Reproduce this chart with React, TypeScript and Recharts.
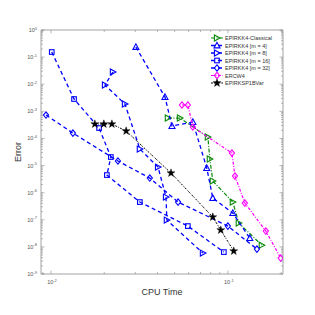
import React from 'react';
import { ScatterChart, Scatter, XAxis, YAxis, ReferenceArea, Legend } from 'recharts';

// values (CPU time in s, error)
const classicalCpu = [0.0458, 0.0536, 0.0771, 0.0791, 0.0822, 0.1067, 0.1153, 0.1556];
const classicalErr = [5.66e-4, 5.66e-4, 1.13e-4, 1.74e-5, 2.68e-6, 4.5e-7, 7.55e-8, 1.16e-8];

const m4Cpu = [0.0302, 0.0441, 0.0483, 0.0634, 0.076, 0.0822, 0.1067, 0.133];
const m4Err = [0.236, 3.37e-3, 2.87e-4, 4.03e-4, 8.09e-6, 6.32e-7, 1.77e-7, 2.11e-8];

const m8Cpu = [0.0224, 0.0202, 0.0262, 0.0318, 0.0403, 0.0447, 0.0452, 0.0723];
const m8Err = [0.0282, 9.34e-3, 1.86e-3, 4.06e-5, 8.8e-6, 6.88e-7, 9.75e-8, 5.9e-9];

const m16Cpu = [0.0101, 0.0135, 0.0187, 0.0218, 0.0207, 0.0318, 0.0594, 0.0949];
const m16Err = [0.154, 2.84e-3, 2.42e-4, 2.06e-5, 4.46e-6, 4.5e-7, 5.86e-8, 6.43e-9];

const m32Cpu = [0.00937, 0.0133, 0.0239, 0.0362, 0.0523, 0.1, 0.146];
const m32Err = [7.3e-4, 1.58e-4, 1.47e-5, 3.46e-6, 4.5e-7, 5.86e-8, 8.3e-9];

const ercwCpu = [0.055, 0.0594, 0.0634, 0.1054, 0.1097, 0.1248, 0.164, 0.199];
const ercwErr = [1.71e-3, 1.71e-3, 2.64e-4, 2.89e-5, 4.1e-6, 4.13e-7, 3.83e-8, 3.86e-9];

const spCpu = [0.0177, 0.0199, 0.0221, 0.0266, 0.0477, 0.0822, 0.0912, 0.108];
const spErr = [3.4e-4, 3.4e-4, 3.4e-4, 1.88e-4, 5.29e-6, 1.26e-7, 4.17e-8, 7e-9];

const X_DOMAIN = [0.00878, 0.205];
const Y_DOMAIN = [1e-9, 1];
const X_MAJOR = [0.01, 0.1];
const X_MINOR = [0.009, 0.02, 0.03, 0.04, 0.05, 0.06, 0.07, 0.08, 0.09, 0.2];
const Y_MAJOR = [1e-9, 1e-8, 1e-7, 1e-6, 1e-5, 1e-4, 1e-3, 1e-2, 1e-1, 1];
const MINOR_STEPS = [2, 3, 4, 5, 6, 7, 8, 9];

const yTicks = [...Y_MAJOR];
Y_MAJOR.slice(0, -1).forEach(d => MINOR_STEPS.forEach(m => yTicks.push(m * d)));
const xTicks = [...X_MAJOR, ...X_MINOR];

const W = 315;
const H = 315;
const PLOT = { left: 41, right: 283, top: 30, bottom: 274 };
const AXIS = '#8a8a8a';
const FONT = '"Liberation Sans", Arial, sans-serif';

const BLUE = '#0000ff';
const GREEN = '#0a8a0a';
const MAGENTA = '#ff00ff';

const pts = (cpu: number[], err: number[]) => cpu.map((c, i) => ({ cpu: c, err: err[i] }));

const isMajor = (v: number) => Math.abs(Math.log10(v) - Math.round(Math.log10(v))) < 1e-6;

function Marker({ cx, cy, kind, color }: any) {
  if (cx == null || cy == null) return null;
  const sw = 1.1;
  if (kind === 'tr') {
    return <polygon points={`${cx - 2.6},${cy - 3} ${cx - 2.6},${cy + 3} ${cx + 3},${cy}`} fill="none" stroke={color} strokeWidth={sw} />;
  }
  if (kind === 'tu') {
    return <polygon points={`${cx},${cy - 3.2} ${cx - 3},${cy + 2.4} ${cx + 3},${cy + 2.4}`} fill="none" stroke={color} strokeWidth={sw} />;
  }
  if (kind === 'sq') {
    return <rect x={cx - 2.3} y={cy - 2.3} width={4.6} height={4.6} fill="none" stroke={color} strokeWidth={sw} />;
  }
  if (kind === 'di') {
    return <polygon points={`${cx},${cy - 3.2} ${cx + 2.6},${cy} ${cx},${cy + 3.2} ${cx - 2.6},${cy}`} fill="none" stroke={color} strokeWidth={sw} />;
  }
  // pentagram
  const p: string[] = [];
  for (let i = 0; i < 10; i++) {
    const r = i % 2 === 0 ? 4.2 : 1.7;
    const a = -Math.PI / 2 + (i * Math.PI) / 5;
    p.push(`${cx + r * Math.cos(a)},${cy + r * Math.sin(a)}`);
  }
  return <polygon points={p.join(' ')} fill={color} stroke={color} strokeWidth={0.4} />;
}

const SERIES = [
  { name: 'EPIRKK4-Classical', data: pts(classicalCpu, classicalErr), color: GREEN, kind: 'tr', dash: '4 1.6 1 1.6', width: 1.2 },
  { name: 'EPIRKK4 [m = 4]', data: pts(m4Cpu, m4Err), color: BLUE, kind: 'tu', dash: '4 3', width: 1.3 },
  { name: 'EPIRKK4 [m = 8]', data: pts(m8Cpu, m8Err), color: BLUE, kind: 'tr', dash: '4 3', width: 1.3 },
  { name: 'EPIRKK4 [m = 16]', data: pts(m16Cpu, m16Err), color: BLUE, kind: 'sq', dash: '4 3', width: 1.3 },
  { name: 'EPIRKK4 [m = 32]', data: pts(m32Cpu, m32Err), color: BLUE, kind: 'di', dash: '4 3', width: 1.3 },
  { name: 'ERCW4', data: pts(ercwCpu, ercwErr), color: MAGENTA, kind: 'di', dash: '3 1.5 1 1.5', width: 1.2 },
  { name: 'EPIRKSP1BVar', data: pts(spCpu, spErr), color: '#000000', kind: 'star', dash: '2 1.2 0.8 1.2', width: 1 },
];

function YTick(props: any) {
  const { y, payload } = props;
  const v = payload.value;
  const major = isMajor(v);
  const len = major ? 3.5 : 2;
  return (
    <g>
      <line x1={PLOT.left} x2={PLOT.left + len} y1={y} y2={y} stroke={AXIS} strokeWidth={0.6} />
      <line x1={PLOT.right} x2={PLOT.right - len} y1={y} y2={y} stroke={AXIS} strokeWidth={0.6} />
      {major && (
        <text x={PLOT.left - 4} y={y + 2} textAnchor="end" fontSize={5.5} fill="#555" fontFamily={FONT}>
          10<tspan dy={-2.5} fontSize={4}>{Math.round(Math.log10(v))}</tspan>
        </text>
      )}
    </g>
  );
}

function XTick(props: any) {
  const { x, payload } = props;
  const v = payload.value;
  const major = isMajor(v);
  const len = major ? 3.5 : 2;
  return (
    <g>
      <line x1={x} x2={x} y1={PLOT.bottom} y2={PLOT.bottom - len} stroke={AXIS} strokeWidth={0.6} />
      <line x1={x} x2={x} y1={PLOT.top} y2={PLOT.top + len} stroke={AXIS} strokeWidth={0.6} />
      {major && (
        <text x={x + 1} y={PLOT.bottom + 10} textAnchor="middle" fontSize={5.5} fill="#555" fontFamily={FONT}>
          10<tspan dy={-2.5} fontSize={4}>{Math.round(Math.log10(v))}</tspan>
        </text>
      )}
    </g>
  );
}

function LegendBox() {
  return (
    <svg width={80} height={58}>
      {SERIES.map((s, i) => {
        const y = 5 + i * 7.5;
        return (
          <g key={s.name}>
            <line x1={5} x2={17} y1={y} y2={y} stroke={s.color} strokeWidth={s.width} strokeDasharray={s.dash} />
            <Marker cx={11} cy={y} kind={s.kind} color={s.color} />
            <text x={19} y={y + 2} fontSize={5.5} fill="#333" fontFamily={FONT}>{s.name}</text>
          </g>
        );
      })}
    </svg>
  );
}

export default function App() {
  return (
    <div style={{ position: 'absolute', left: 0, top: 0, width: W, height: H, background: '#fff' }}>
      <ScatterChart width={W} height={H} margin={{ top: PLOT.top, right: W - PLOT.right, bottom: 27, left: 0 }}>
        <XAxis
          type="number"
          dataKey="cpu"
          scale="log"
          domain={X_DOMAIN}
          allowDataOverflow
          ticks={xTicks}
          interval={0}
          tick={<XTick />}
          tickLine={false}
          axisLine={false}
          height={14}
          label={{
            content: (p: any) => {
              const vb = p.viewBox;
              return (
                <text x={vb.x + vb.width / 2} y={vb.y + 21} textAnchor="middle" fontSize={9} fill="#333" fontFamily={FONT}>
                  CPU Time
                </text>
              );
            },
          }}
        />
        <YAxis
          type="number"
          dataKey="err"
          scale="log"
          domain={Y_DOMAIN}
          allowDataOverflow
          ticks={yTicks}
          interval={0}
          tick={<YTick />}
          tickLine={false}
          axisLine={false}
          width={PLOT.left}
          label={{
            content: (p: any) => {
              const vb = p.viewBox;
              const cy = vb.y + vb.height / 2;
              return (
                <text x={19} y={cy} transform={`rotate(-90 19 ${cy})`} textAnchor="middle" dominantBaseline="middle" fontSize={9} fill="#333" fontFamily={FONT}>
                  Error
                </text>
              );
            },
          }}
        />
        <ReferenceArea
          x1={X_DOMAIN[0]}
          x2={X_DOMAIN[1]}
          y1={Y_DOMAIN[0]}
          y2={Y_DOMAIN[1]}
          fill="none"
          stroke={AXIS}
          strokeWidth={0.8}
          ifOverflow="visible"
        />
        {SERIES.map(s => (
          <Scatter
            key={s.name}
            name={s.name}
            data={s.data}
            isAnimationActive={false}
            line={{ stroke: s.color, strokeWidth: s.width, strokeDasharray: s.dash }}
            lineType="joint"
            shape={(p: any) => <Marker cx={p.cx} cy={p.cy} kind={s.kind} color={s.color} />}
          />
        ))}
        <Legend
          layout="vertical"
          align="center"
          verticalAlign="middle"
          content={() => <LegendBox />}
          wrapperStyle={{ left: 206, top: 33, width: 80, height: 58 }}
        />
      </ScatterChart>
    </div>
  );
}
